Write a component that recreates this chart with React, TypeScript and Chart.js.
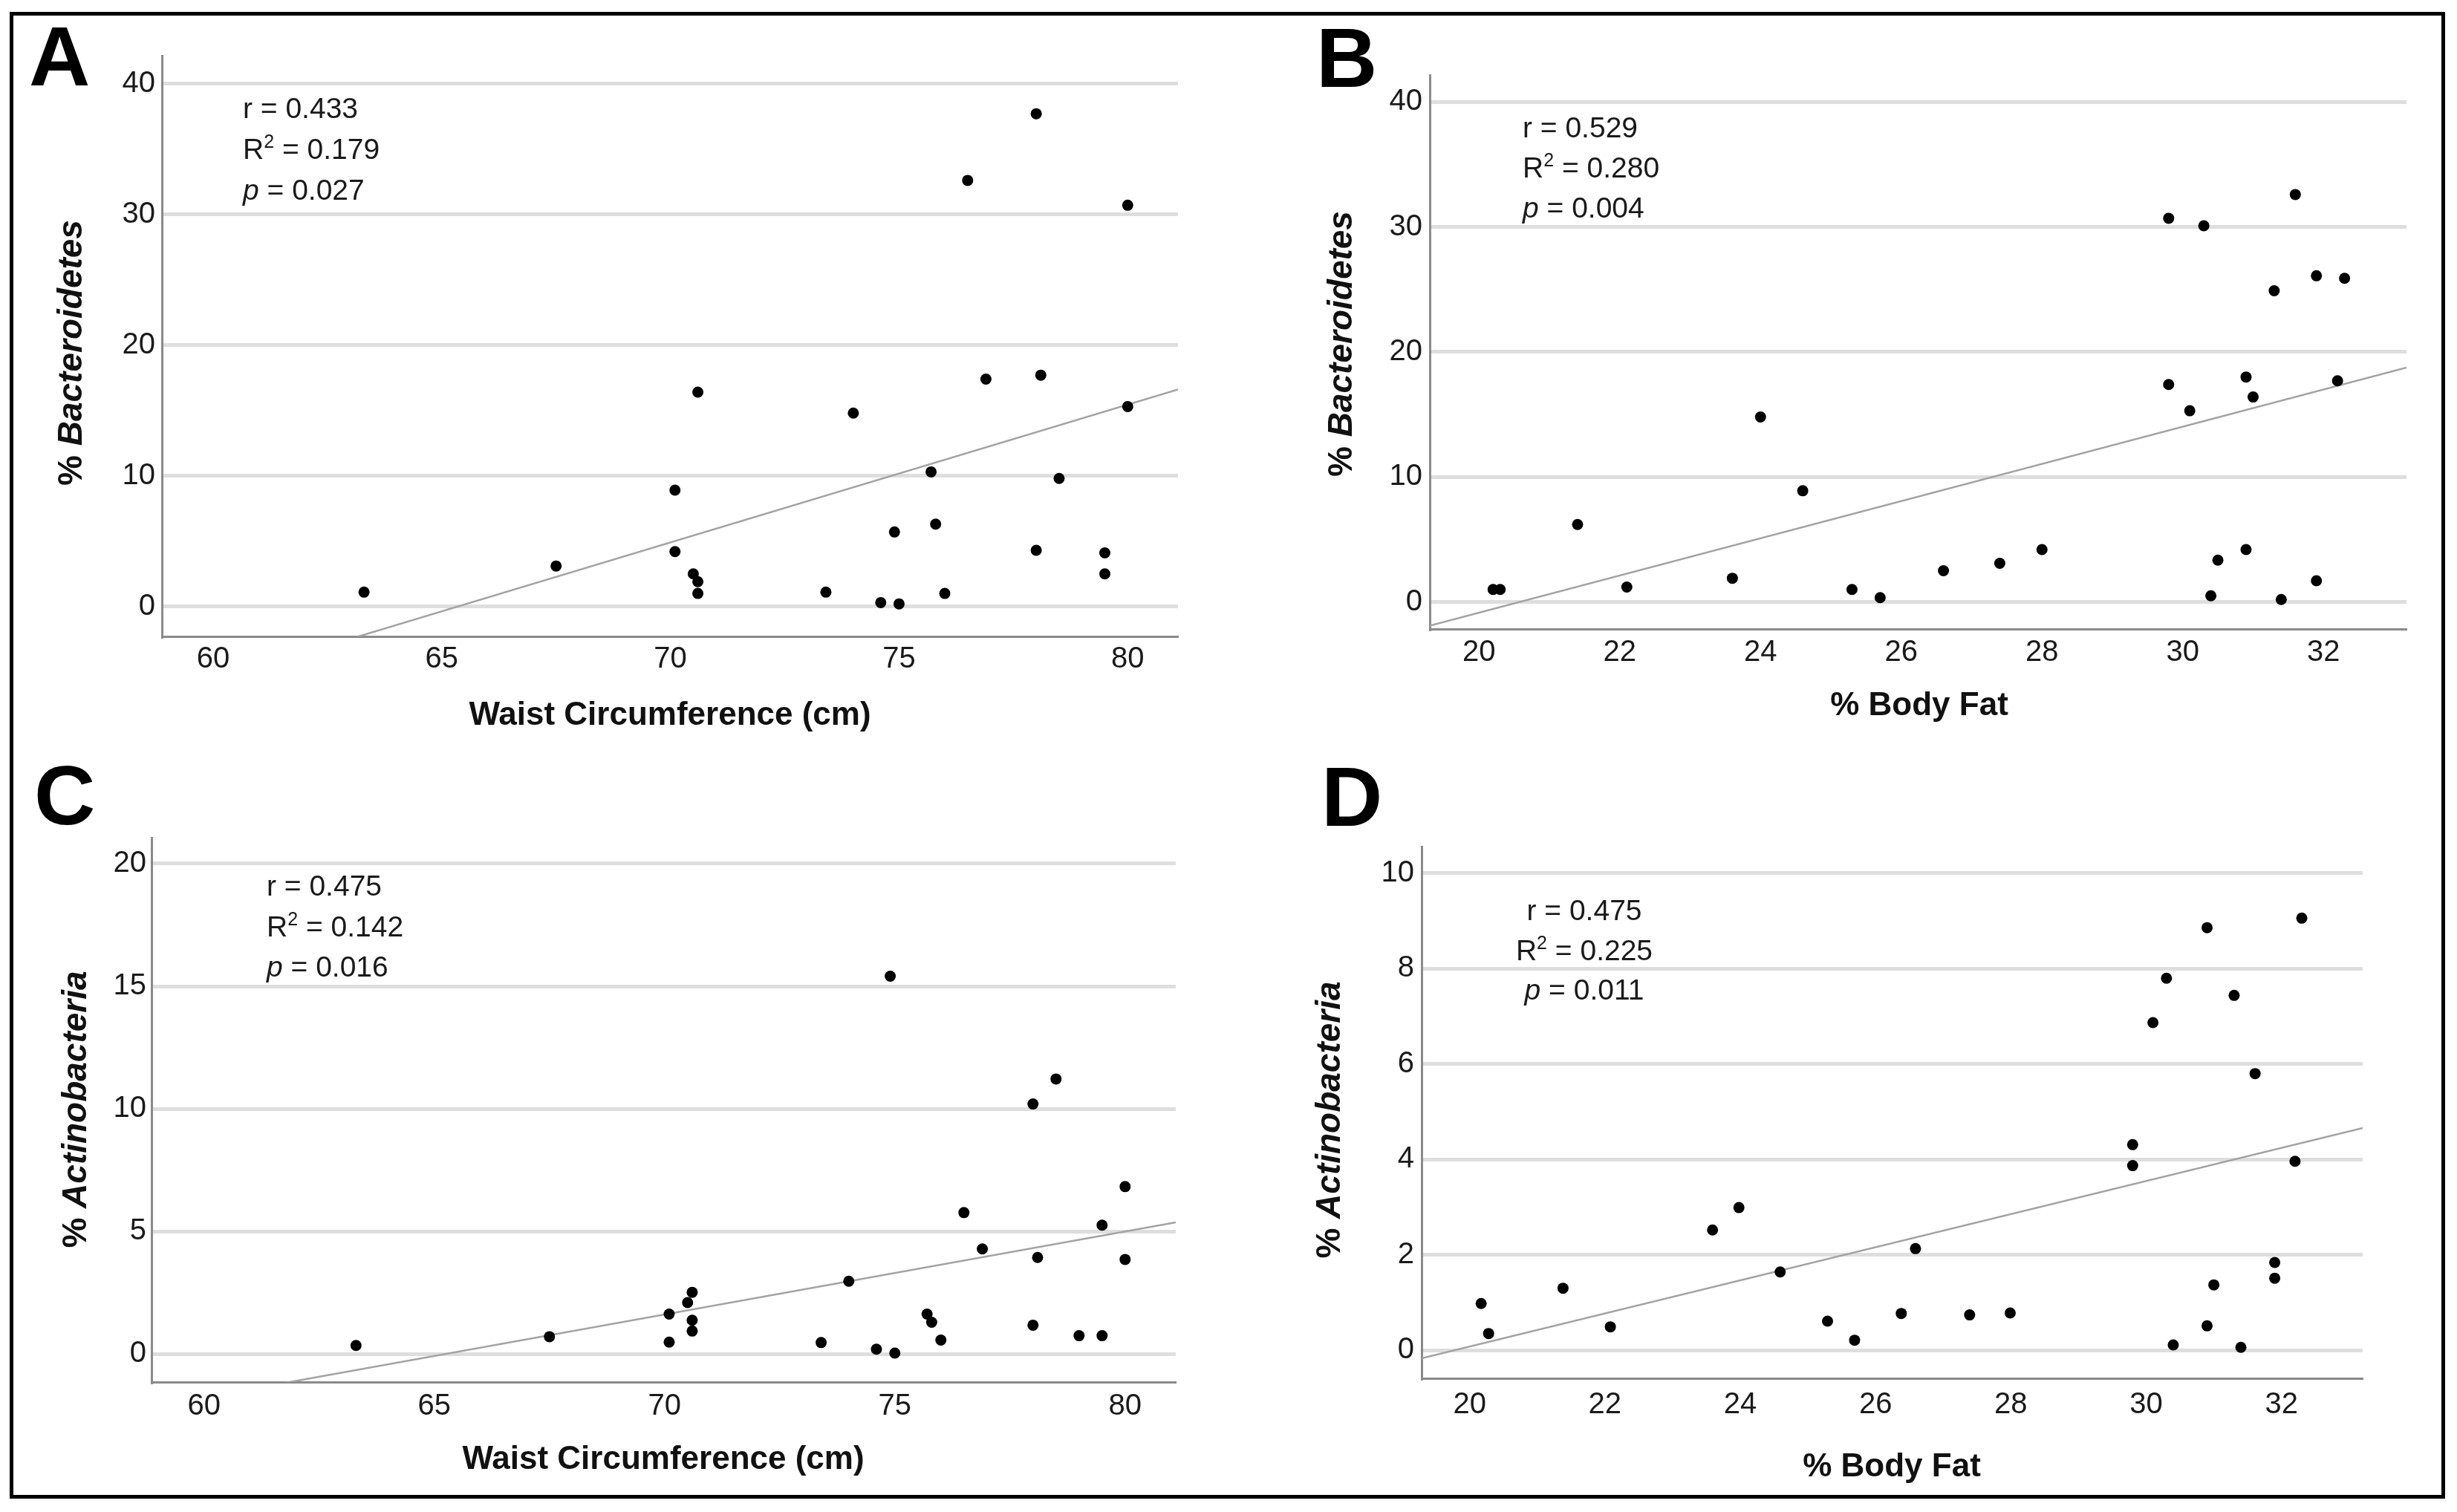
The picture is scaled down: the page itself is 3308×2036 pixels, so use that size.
import React, { useEffect, useRef } from 'react';
import { Chart, registerables } from 'chart.js';

Chart.register(...registerables);

// ---------------- DATA ----------------
// Panel A: Waist circumference vs % Bacteroidetes
const waistA = [63.3, 67.5, 70.1, 70.1, 70.6, 70.5, 70.6, 70.6, 73.4, 74.0, 74.6, 74.9, 75.0, 75.7, 75.8, 76.0, 76.5, 76.9, 78.0, 78.1, 78.0, 78.5, 79.5, 79.5, 80.0, 80.0];
const bacteroidetesA = [1.1, 3.1, 8.9, 4.2, 16.4, 2.5, 1.9, 1.0, 1.1, 14.8, 0.3, 5.7, 0.2, 10.3, 6.3, 1.0, 32.6, 17.4, 37.7, 17.7, 4.3, 9.8, 4.1, 2.5, 30.7, 15.3];

// Panel B: % Body fat vs % Bacteroidetes
const bodyFatB = [20.2, 20.3, 21.4, 22.1, 23.6, 24.0, 24.6, 25.3, 25.7, 26.6, 27.4, 28.0, 29.8, 29.8, 30.1, 30.3, 30.4, 30.5, 30.9, 30.9, 31.0, 31.3, 31.4, 31.6, 31.9, 31.9, 32.2, 32.3];
const bacteroidetesB = [1.0, 1.0, 6.2, 1.2, 1.9, 14.8, 8.9, 1.0, 0.35, 2.5, 3.1, 4.2, 30.7, 17.4, 15.3, 30.1, 0.5, 3.35, 18.0, 4.2, 16.4, 24.9, 0.2, 32.6, 26.1, 1.7, 17.7, 25.9];

// Panel C: Waist circumference vs % Actinobacteria
const waistC = [63.3, 67.5, 70.1, 70.1, 70.5, 70.6, 70.6, 70.6, 73.4, 74.0, 74.6, 74.9, 75.0, 75.7, 75.8, 76.0, 76.5, 76.9, 78.0, 78.1, 78.0, 78.5, 79.0, 79.5, 79.5, 80.0, 80.0];
const actinobacteriaC = [0.35, 0.71, 1.63, 0.49, 2.1, 2.52, 1.38, 0.94, 0.47, 2.97, 0.2, 15.41, 0.04, 1.63, 1.3, 0.57, 5.77, 4.29, 10.2, 3.94, 1.18, 11.22, 0.75, 5.26, 0.75, 6.83, 3.86];

// Panel D: % Body fat vs % Actinobacteria
const bodyFatD = [20.17, 20.28, 21.38, 22.08, 23.59, 23.98, 24.59, 25.29, 25.69, 26.38, 26.59, 27.39, 27.99, 29.8, 29.8, 30.1, 30.3, 30.4, 30.9, 30.9, 31.0, 31.3, 31.4, 31.61, 31.9, 31.9, 32.2, 32.3];
const actinobacteriaD = [0.98, 0.35, 1.3, 0.49, 2.52, 2.99, 1.64, 0.61, 0.21, 0.77, 2.13, 0.74, 0.78, 4.31, 3.87, 6.87, 7.8, 0.11, 8.86, 0.51, 1.37, 7.44, 0.06, 5.8, 1.84, 1.51, 3.96, 9.06];

// Fit lines (slope, intercept)
const fitSlopes = [1.054, 1.488, 0.3385, 0.3472];
const fitIntercepts = [-68.88, -30.61, -22.08, -6.868];

// Statistics text
const statR = ['0.433', '0.529', '0.475', '0.475'];
const statR2 = ['0.179', '0.280', '0.142', '0.225'];
const statP = ['0.027', '0.004', '0.016', '0.011'];

// Tick labels
const waistTicks = [60, 65, 70, 75, 80];
const bodyFatTicks = [20, 22, 24, 26, 28, 30, 32];
const bacteroidetesTicks = [0, 10, 20, 30, 40];
const actinoWaistTicks = [0, 5, 10, 15, 20];
const actinoFatTicks = [0, 2, 4, 6, 8, 10];

const panelLetters = ['A', 'B', 'C', 'D'];
const xTitles = ['Waist Circumference (cm)', '% Body Fat', 'Waist Circumference (cm)', '% Body Fat'];
const yTaxa = ['Bacteroidetes', 'Bacteroidetes', 'Actinobacteria', 'Actinobacteria'];

// ---------------- LAYOUT / STYLE ----------------
const FONT = '"Liberation Sans", Arial, Helvetica, sans-serif';
const AXIS_COLOR = '#8a8a8a';
const GRID_COLOR = '#dedede';
const FIT_COLOR = '#a3a3a3';
const TEXT_COLOR = '#1a1a1a';
const CW = 1654;
const CH = 1018;

type Layout = {
  left: number; top: number;
  padTop: number; padRight: number; yAxisW: number; xAxisH: number;
  xTickPad: number; yTickPad: number;
  xMin: number; xMax: number; yMin: number; yMax: number;
  letterX: number; letterY: number;
  xTitleX: number; xTitleY: number;
  yTitleX: number; yTitleY: number;
  statX: number; statY: number[]; statAlign: 'left' | 'center';
};

const layouts: Layout[] = [
  { left: 0, top: 0, padTop: 75, padRight: 68, yAxisW: 218, xAxisH: 161, xTickPad: 7, yTickPad: 9,
    xMin: 58.88, xMax: 81.1, yMin: -2.29, yMax: 42.14,
    letterX: 39, letterY: 115, xTitleX: 902, xTitleY: 964, yTitleX: 97, yTitleY: 475,
    statX: 327, statY: [159, 214, 269], statAlign: 'left' },
  { left: 1654, top: 0, padTop: 101, padRight: 68, yAxisW: 271, xAxisH: 171, xTickPad: 8, yTickPad: 10,
    xMin: 19.3, xMax: 33.18, yMin: -2.16, yMax: 42.16,
    letterX: 118, letterY: 117, xTitleX: 930, xTitleY: 951, yTitleX: 153, yTitleY: 463,
    statX: 396, statY: [185, 239, 293], statAlign: 'left' },
  { left: 0, top: 1018, padTop: 110, padRight: 71, yAxisW: 204, xAxisH: 175, xTickPad: 9, yTickPad: 7,
    xMin: 58.86, xMax: 81.1, yMin: -1.14, yMax: 21.06,
    letterX: 46, letterY: 92, xTitleX: 893, xTitleY: 948, yTitleX: 103, yTitleY: 476,
    statX: 359, statY: [188, 243, 297], statAlign: 'left' },
  { left: 1654, top: 1018, padTop: 122, padRight: 127, yAxisW: 260, xAxisH: 180, xTickPad: 12, yTickPad: 10,
    xMin: 19.29, xMax: 33.2, yMin: -0.59, yMax: 10.56,
    letterX: 125, letterY: 94, xTitleX: 893, xTitleY: 958, yTitleX: 137, yTitleY: 490,
    statX: 479, statY: [221, 275, 328], statAlign: 'center' },
];

const panelXs = [waistA, bodyFatB, waistC, bodyFatD];
const panelYs = [bacteroidetesA, bacteroidetesB, actinobacteriaC, actinobacteriaD];
const panelXTicks = [waistTicks, bodyFatTicks, waistTicks, bodyFatTicks];
const panelYTicks = [bacteroidetesTicks, bacteroidetesTicks, actinoWaistTicks, actinoFatTicks];

function makeTextPlugin(i: number) {
  const L = layouts[i];
  return {
    id: 'panelText' + i,
    afterDraw(chart: any) {
      const ctx: CanvasRenderingContext2D = chart.ctx;
      ctx.save();
      ctx.fillStyle = '#000';
      // panel letter
      ctx.font = `bold 114px ${FONT}`;
      ctx.textAlign = 'left';
      ctx.textBaseline = 'alphabetic';
      ctx.fillText(panelLetters[i], L.letterX, L.letterY);

      // x title
      ctx.fillStyle = '#111';
      ctx.font = `bold 44px ${FONT}`;
      ctx.textAlign = 'center';
      ctx.textBaseline = 'middle';
      ctx.fillText(xTitles[i], L.xTitleX, L.xTitleY);

      // y title (rotated, mixed style)
      ctx.save();
      ctx.translate(L.yTitleX, L.yTitleY);
      ctx.rotate(-Math.PI / 2);
      ctx.textAlign = 'left';
      const part1 = '% ';
      const part2 = yTaxa[i];
      ctx.font = `bold 46px ${FONT}`;
      const w1 = ctx.measureText(part1).width;
      ctx.font = `italic bold 46px ${FONT}`;
      const w2 = ctx.measureText(part2).width;
      const start = -(w1 + w2) / 2;
      ctx.font = `bold 46px ${FONT}`;
      ctx.fillText(part1, start, 0);
      ctx.font = `italic bold 46px ${FONT}`;
      ctx.fillText(part2, start + w1, 0);
      ctx.restore();

      // statistics
      ctx.fillStyle = TEXT_COLOR;
      ctx.textBaseline = 'alphabetic';
      ctx.textAlign = 'left';
      const base = `39px ${FONT}`;
      const sup = `25px ${FONT}`;
      const ital = `italic 39px ${FONT}`;
      const lines: { text: string; font: string; dy?: number }[][] = [
        [{ text: `r = ${statR[i]}`, font: base }],
        [{ text: 'R', font: base }, { text: '2', font: sup, dy: -15 }, { text: ` = ${statR2[i]}`, font: base }],
        [{ text: 'p', font: ital }, { text: ` = ${statP[i]}`, font: base }],
      ];
      lines.forEach((segs, li) => {
        let total = 0;
        segs.forEach((s) => { ctx.font = s.font; total += ctx.measureText(s.text).width; });
        let x = L.statAlign === 'center' ? L.statX - total / 2 : L.statX;
        segs.forEach((s) => {
          ctx.font = s.font;
          ctx.fillText(s.text, x, L.statY[li] + (s.dy || 0));
          x += ctx.measureText(s.text).width;
        });
      });
      ctx.restore();
    },
  };
}

function Panel({ i }: { i: number }) {
  const ref = useRef<HTMLCanvasElement | null>(null);
  useEffect(() => {
    if (!ref.current) return;
    const L = layouts[i];
    const xs = panelXs[i];
    const ys = panelYs[i];
    const points = xs.map((x, k) => ({ x, y: ys[k] }));
    const fit = [L.xMin, L.xMax].map((x) => ({ x, y: fitSlopes[i] * x + fitIntercepts[i] }));
    const xTicks = panelXTicks[i];
    const yTicks = panelYTicks[i];
    const tickFont = { family: FONT, size: 40 };
    const chart = new Chart(ref.current, {
      type: 'scatter',
      data: {
        datasets: [
          {
            type: 'scatter',
            data: points,
            pointRadius: 7.5,
            pointBackgroundColor: '#000',
            pointBorderWidth: 0,
            pointBorderColor: '#000',
          } as any,
          {
            type: 'line',
            data: fit,
            borderColor: FIT_COLOR,
            borderWidth: 2.5,
            pointRadius: 0,
            fill: false,
          } as any,
        ],
      },
      options: {
        animation: false,
        responsive: false,
        devicePixelRatio: 1,
        events: [],
        layout: { padding: { top: L.padTop, right: L.padRight, left: 0, bottom: 0 } },
        plugins: { legend: { display: false }, tooltip: { enabled: false } },
        scales: {
          x: {
            type: 'linear',
            min: L.xMin,
            max: L.xMax,
            afterBuildTicks: (s: any) => { s.ticks = xTicks.map((v) => ({ value: v })); },
            afterFit: (s: any) => { s.height = L.xAxisH; },
            grid: { display: false, drawTicks: false },
            border: { display: true, color: AXIS_COLOR, width: 3 },
            ticks: { font: tickFont, color: TEXT_COLOR, padding: L.xTickPad, maxRotation: 0, autoSkip: false },
          },
          y: {
            type: 'linear',
            min: L.yMin,
            max: L.yMax,
            afterBuildTicks: (s: any) => { s.ticks = yTicks.map((v) => ({ value: v })); },
            afterFit: (s: any) => { s.width = L.yAxisW; },
            grid: { color: GRID_COLOR, lineWidth: 5, drawTicks: false },
            border: { display: true, color: AXIS_COLOR, width: 3 },
            ticks: { font: tickFont, color: TEXT_COLOR, padding: L.yTickPad, autoSkip: false },
          },
        },
      } as any,
      plugins: [makeTextPlugin(i)],
    });
    return () => chart.destroy();
  }, [i]);
  const L = layouts[i];
  return (
    <div style={{ position: 'absolute', left: L.left, top: L.top, width: CW, height: CH }}>
      <canvas ref={ref} width={CW} height={CH} style={{ width: CW, height: CH, display: 'block' }} />
    </div>
  );
}

export default function App() {
  return (
    <div style={{ position: 'absolute', left: 0, top: 0, width: 3308, height: 2036, background: '#fff', overflow: 'hidden' }}>
      {[0, 1, 2, 3].map((i) => <Panel key={i} i={i} />)}
      <div
        style={{
          position: 'absolute', left: 13, top: 16, width: 3279, height: 2002,
          boxSizing: 'border-box', border: '5px solid #000', pointerEvents: 'none', zIndex: 2,
        }}
      />
    </div>
  );
}
